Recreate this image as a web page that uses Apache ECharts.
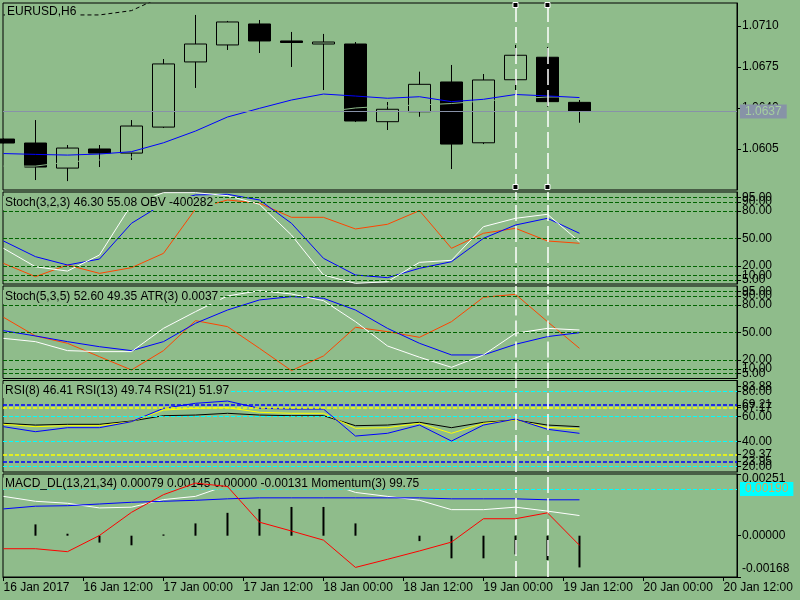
<!DOCTYPE html>
<html>
<head>
<meta charset="utf-8">
<script src="https://cdn.jsdelivr.net/npm/echarts@6/dist/echarts.min.js"></script>
<style>
html, body { margin: 0; padding: 0; background: #8fbc8b; }
#chart { width: 800px; height: 600px; }
</style>
</head>
<body>
<div id="chart"></div>
<script>
// EURUSD H6 terminal view: price window + 4 indicator windows
const timeLabels = ['16 Jan 2017', '16 Jan 12:00', '17 Jan 00:00', '17 Jan 12:00', '18 Jan 00:00',
    '18 Jan 12:00', '19 Jan 00:00', '19 Jan 12:00', '20 Jan 00:00', '20 Jan 12:00'];
const labelStep = 2.5; // bars between two time labels

// one row per H6 bar: [open, close, low, high]
const candles = [
    [1.06135, 1.06101, 1.06098, 1.06140],
    [1.06101, 1.05896, 1.05785, 1.06297],
    [1.05887, 1.06058, 1.05776, 1.06084],
    [1.06050, 1.06015, 1.05896, 1.06084],
    [1.06015, 1.06246, 1.05956, 1.06297],
    [1.06237, 1.06776, 1.06229, 1.06818],
    [1.06793, 1.06946, 1.06571, 1.07194],
    [1.06938, 1.07134, 1.06895, 1.07143],
    [1.07117, 1.06972, 1.06869, 1.07151],
    [1.06972, 1.06959, 1.06750, 1.07049],
    [1.06946, 1.06963, 1.06553, 1.07032],
    [1.06946, 1.06289, 1.06280, 1.06963],
    [1.06283, 1.06389, 1.06212, 1.06451],
    [1.06368, 1.06602, 1.06325, 1.06710],
    [1.06622, 1.06092, 1.05879, 1.06767],
    [1.06103, 1.06639, 1.06092, 1.06690],
    [1.06641, 1.06850, 1.06519, 1.06938],
    [1.06833, 1.06454, 1.06411, 1.06921],
    [1.06448, 1.06370, 1.06274, 1.06468]
];
const maBlue = [1.06011, 1.06004, 1.05998, 1.06007, 1.06027, 1.06103, 1.06203, 1.06323, 1.06397, 1.06468,
    1.06519, 1.06502, 1.06483, 1.06496, 1.06454, 1.06474, 1.06515, 1.06503, 1.06489];
// second MA, drawn in the background colour (only shows over black bodies)
const maHidden = [1.05904, 1.05904, 1.05939, 1.05956, 1.05981, 1.06041, 1.06118, 1.06195, 1.06263, 1.06323,
    1.06366, 1.06400, 1.06417, 1.06425, 1.06438, 1.06460, 1.06477, 1.06494, 1.06494];
const upperBand = [1.07194, 1.07194, 1.07194, 1.07194, 1.07231, 1.07356];
const selectedBars = [16, 17];

// Stoch(3,2,3) + OBV window
const stoch1Main = [39.3, 19.2, 14.5, 32, 87, 100, 100, 96.7, 87.3, 53.8, 10.2, 1.1, 2.9, 24, 26.2, 62.9, 72, 76.4, 46.5];
const stoch1Signal = [47.3, 30.2, 21.1, 27.6, 66.6, 88, 97.5, 98.2, 92, 66.6, 28.4, 10.2, 7.3, 17.5, 24.7, 50.2, 64.7, 72, 55.7];
const obvLine = [22.9, 8.4, 21.1, 12, 18.2, 33.8, 82.2, 92, 88.4, 73.1, 73.1, 60.4, 65.5, 80.4, 39.3, 55.7, 61.1, 47.3, 44.8];
// Stoch(5,3,5) + ATR window
const stoch2Main = [43.6, 40, 30.2, 29.1, 29.1, 54.5, 72.7, 89.8, 95.6, 92, 84.7, 61.8, 35.3, 23, 12, 25.5, 49.1, 54.5, 52.7];
const stoch2Signal = [52, 46.2, 40, 34.5, 30.2, 40, 60, 74.5, 85.5, 89.1, 87.3, 74.5, 54.5, 38.2, 25.5, 25.5, 37.1, 45.5, 49.8];
const atrLine = [66.6, 46.2, 38.2, 23.6, 9.1, 30.2, 62.9, 56.4, 32.7, 8.4, 24.4, 55.7, 50.9, 44.7, 61.8, 88.4, 91.6, 61.8, 32.7];
const stochLevels = [5, 10, 20, 50, 80, 90, 95];
// RSI window
const rsi8 = [51.7, 47.7, 50.9, 50.9, 55.7, 66.4, 70.4, 72.2, 66.4, 65.8, 65.8, 44.2, 46.4, 53, 40.2, 53, 57.8, 49.6, 46.4];
const rsi13 = [53.6, 51.7, 52.5, 52.5, 55.7, 65, 66.4, 66.9, 63.2, 62.4, 62.4, 50.4, 50.9, 54.4, 46.4, 54.4, 57, 51.2, 49.8];
const rsi21 = [54.4, 53, 53.6, 53.6, 56.2, 60.5, 61, 62.4, 61, 60.5, 60.5, 52.5, 53, 55.2, 50.9, 55.2, 57, 53, 51.7];
const rsiCyanLevels = [20, 40, 60, 80];
const rsiBlueLevels = [23.95, 69.21];
const rsiYellowLevels = [29.37, 67.17];
const rsiTopLabel = 83.88;
// MACD_DL + Momentum window
const macdMain = [0.0016, 0.0014, 0.00132, 0.00113, 0.00116, 0.00147, 0.0016, 0.00205, 0.0023, 0.0023, 0.0022,
    0.00176, 0.0016, 0.00144, 0.00106, 0.00106, 0.00116, 0.001, 0.00082];
const macdSignal = [0.00109, 0.0012, 0.00122, 0.00129, 0.00136, 0.0014, 0.00144, 0.0015, 0.00154, 0.00154, 0.00154,
    0.00154, 0.00154, 0.00154, 0.0015, 0.0015, 0.0015, 0.00146, 0.00146];
const macdHist = [0, 0.00046, 0.00008, -0.00028, -0.00039, 0.00005, 0.0005, 0.00093, 0.00109, 0.00117, 0.00117,
    0.0005, 0, -0.00022, -0.00092, -0.00092, -0.00076, -0.00099, -0.00129];
const momentum = [-0.00053, -0.00053, -0.00065, 0.00001, 0.00095, 0.00167, 0.00214, 0.002, 0.00055, 0.00019, -0.00018,
    -0.00129, -0.00096, -0.00062, -0.00026, 0.00069, 0.00069, 0.00093, -0.00039];
const macdLevel = 0.0019;

const bg = '#8fbc8b';
const font = 'Liberation Sans';
const xMin = -0.015, xMax = 22.9225;
const panels = [
    { top: 3, height: 187, min: 1.0570, max: 1.07296 },
    { top: 192, height: 92, min: 0.4, max: 100.7 },
    { top: 286, height: 92.5, min: -0.2, max: 100.7 },
    { top: 380.5, height: 91.5, min: 15.44, max: 88.64 },
    { top: 474, height: 103, min: -0.00168, max: 0.00251 }
];

const xy = arr => arr.map((v, i) => [i, v]);
const labelPos = timeLabels.map((t, i) => i * labelStep);
const lastClose = candles[candles.length - 1][1];

function levelLines(levels, color, width) {
    return levels.map(v => ({ yAxis: v, lineStyle: { color: color, type: [4, 2], width: width || 1 } }));
}
const vLines = selectedBars.map(b => ({ xAxis: b, lineStyle: { color: '#ffffff', type: [16, 5], width: 1.5 } }));
function markLines(data) {
    return { silent: true, symbol: 'none', animation: false, precision: 6, label: { show: false }, data: data };
}

function line(gi, data, color, extra) {
    return Object.assign({
        type: 'line', xAxisIndex: gi, yAxisIndex: gi, data: xy(data),
        symbol: 'none', showSymbol: false, silent: true, z: 3,
        lineStyle: { color: color, width: 1 }, itemStyle: { color: color }
    }, extra || {});
}

function yAxisFor(i, ticks, fmt, showLine) {
    const p = panels[i];
    return {
        type: 'value', gridIndex: i, position: 'right', offset: 0, min: p.min, max: p.max,
        axisLine: { show: showLine !== false, onZero: false, lineStyle: { color: '#000', width: 1 } },
        axisTick: { show: true, inside: false, length: 4, customValues: ticks, lineStyle: { color: '#000' } },
        axisLabel: {
            show: true, customValues: ticks, formatter: fmt, margin: 5, hideOverlap: false,
            showMinLabel: true, showMaxLabel: true,
            color: '#000', fontSize: 12, fontFamily: font
        },
        splitLine: { show: false }
    };
}
const fix2 = v => v.toFixed(2);

// level labels that sit close together are split over extra label-only axes
const stochLabelGroups = [[5, 50, 95], [10, 80], [20, 90]];
const rsiLabelGroups = [rsiCyanLevels, [rsiBlueLevels[0], rsiYellowLevels[1]], [rsiYellowLevels[0], rsiBlueLevels[1], rsiTopLabel]];

const titleStyle = { fontSize: 12, fontWeight: 'normal', color: '#000', fontFamily: font, lineHeight: 14 };
function title(text, left, top, lh) {
    return { text: text, left: left, top: top, padding: [0, 2], backgroundColor: bg, z: 6,
        textStyle: Object.assign({}, titleStyle, lh ? { lineHeight: lh } : {}) };
}

// a level line with its value boxed at the right edge
function boxedLevel(value, digits, lineColor, lineType, boxColor, textColor) {
    return {
        silent: true, symbol: 'none', animation: false, precision: 6,
        data: [{
            yAxis: value, lineStyle: { color: lineColor, type: lineType, width: 1 },
            label: {
                show: true, position: 'end', distance: 3, formatter: value.toFixed(digits),
                backgroundColor: boxColor, color: textColor, padding: [1, 5],
                fontSize: 12, fontFamily: font
            }
        }]
    };
}

const macdAxis = yAxisFor(4, [panels[4].min, 0, panels[4].max], v =>
    v === panels[4].max ? '{t|' + v.toFixed(5) + '}' : v === panels[4].min ? '{b|' + v.toFixed(5) + '}' : v.toFixed(5));
macdAxis.axisLabel.rich = {
    t: { padding: [9, 0, 0, 0], fontSize: 12, fontFamily: font, color: '#000' },
    b: { padding: [0, 0, 16, 0], fontSize: 12, fontFamily: font, color: '#000' }
};

const yAxes = [
    yAxisFor(0, [1.0605, 1.0640, 1.0675, 1.0710], v => v.toFixed(4)),
    yAxisFor(1, stochLabelGroups[0], fix2),
    yAxisFor(2, stochLabelGroups[0], fix2),
    yAxisFor(3, rsiLabelGroups[0], fix2),
    macdAxis
];
[1, 2].forEach(i => stochLabelGroups.slice(1).forEach(g => yAxes.push(yAxisFor(i, g, fix2, false))));
rsiLabelGroups.slice(1).forEach(g => yAxes.push(yAxisFor(3, g, fix2, false)));

const chart = echarts.init(document.getElementById('chart'));
chart.setOption({
    animation: false,
    backgroundColor: bg,
    textStyle: { fontFamily: font },
    title: [
        title('EURUSD,H6', 5, 5, 13),
        title('Stoch(3,2,3) 46.30 55.08 OBV -400282', 3, 196),
        title('Stoch(5,3,5) 52.60 49.35 ATR(3) 0.0037', 3, 290),
        title('RSI(8) 46.41 RSI(13) 49.74 RSI(21) 51.97', 3, 384),
        title('MACD_DL(13,21,34) 0.00079 0.00145 0.00000 -0.00131 Momentum(3) 99.75', 3, 478, 11)
    ],
    grid: panels.map(p => ({
        left: 3, right: 63, top: p.top, height: p.height, show: true,
        borderColor: '#000', borderWidth: 1, backgroundColor: 'transparent',
        containLabel: false, outerBoundsMode: 'none'
    })),
    xAxis: panels.map((p, i) => i < 4 ? {
        type: 'value', gridIndex: i, min: xMin, max: xMax, show: false
    } : {
        type: 'value', gridIndex: i, min: xMin, max: xMax,
        axisLine: { show: true, onZero: false, lineStyle: { color: '#000' } },
        axisTick: { show: true, length: 4, customValues: labelPos, lineStyle: { color: '#000' } },
        axisLabel: {
            show: true, customValues: labelPos, align: 'left', margin: 5, hideOverlap: false,
            showMinLabel: true, showMaxLabel: true,
            formatter: v => timeLabels[Math.round(v / labelStep)],
            color: '#000', fontSize: 12, fontFamily: font
        },
        splitLine: { show: false }
    }),
    yAxis: yAxes,
    series: [
        {
            type: 'candlestick', xAxisIndex: 0, yAxisIndex: 0, silent: true, z: 2,
            data: candles.map((c, i) => [i].concat(c)),
            barWidth: 22,
            itemStyle: { color: bg, color0: '#000', borderColor: '#000', borderColor0: '#000', borderWidth: 1 },
            markLine: boxedLevel(lastClose, 4, '#8891a8', 'solid', '#8793a7', '#a5cf9f')
        },
        line(0, maHidden, bg),
        line(0, upperBand, '#000', { lineStyle: { color: '#000', width: 1, type: [4, 3] } }),
        line(0, maBlue, '#0000ff', {
            z: 4,
            markLine: markLines(vLines),
            markPoint: {
                silent: true, symbol: 'rect', symbolSize: 5, label: { show: false },
                itemStyle: { color: '#000', borderColor: '#fff', borderWidth: 1 },
                data: selectedBars.flatMap(b => [
                    { coord: [b, panels[0].max], symbolOffset: [0, 2] },
                    { coord: [b, panels[0].min], symbolOffset: [0, -3] }
                ])
            }
        }),

        line(1, obvLine, '#ff4500', { markLine: markLines(levelLines(stochLevels, '#006400').concat(vLines)) }),
        line(1, stoch1Signal, '#0000ff'),
        line(1, stoch1Main, '#ffffff'),

        line(2, atrLine, '#ff4500', { markLine: markLines(levelLines(stochLevels, '#006400').concat(vLines)) }),
        line(2, stoch2Signal, '#0000ff'),
        line(2, stoch2Main, '#ffffff'),

        line(3, rsi21, '#000000', {
            markLine: markLines(levelLines(rsiCyanLevels, '#00ffff')
                .concat(levelLines(rsiBlueLevels, '#0000ff', 1.5))
                .concat(levelLines(rsiYellowLevels, '#ffff00', 1.5))
                .concat(vLines))
        }),
        line(3, rsi13, '#ffff00'),
        line(3, rsi8, '#0000ff'),

        {
            type: 'bar', xAxisIndex: 4, yAxisIndex: 4, data: xy(macdHist), barWidth: 2, silent: true, z: 2,
            itemStyle: { color: '#000' },
            markLine: markLines(vLines)
        },
        line(4, macdMain, '#ffffff'),
        line(4, macdSignal, '#0000ff'),
        line(4, momentum, '#ff0000', {
            z: 8,
            markLine: boxedLevel(macdLevel, 5, '#00ffff', [4, 2], '#00ffff', '#d9a85b')
        })
    ]
});
</script>
</body>
</html>
